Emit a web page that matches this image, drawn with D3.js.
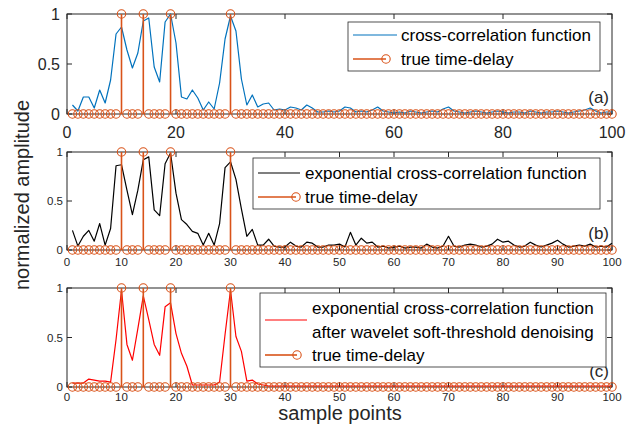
<!DOCTYPE html>
<html>
<head>
<meta charset="utf-8">
<script src="https://cdn.jsdelivr.net/npm/d3@7"></script>
<style>
  body { margin: 0; background: #fff; }
  svg { display: block; font-family: "Liberation Sans", Arial, sans-serif; }
</style>
</head>
<body>
<svg id="chart" width="627" height="426"></svg>
<script>
// sample index 1..100
const samples = d3.range(1, 101);
// true delays (stem value 1 at these samples, 0 elsewhere)
const delays = [10, 14, 19, 30];

// (a) cross-correlation function
const crossCorr = [
  0.09, 0.03, 0.17, 0.17, 0.06, 0.24, 0.11, 0.34, 0.80, 0.87,
  0.64, 0.46, 0.61, 0.93, 0.96, 0.47, 0.32, 0.92, 1.00, 0.71,
  0.17, 0.15, 0.24, 0.16, 0.04, 0.12, 0.05, 0.31, 0.75, 0.98,
  0.83, 0.35, 0.09, 0.19, 0.07, 0.10, 0.11, 0.04, 0.05, 0.04,
  0.07, 0.06, 0.04, 0.09, 0.06, 0.02, 0.02, 0.03, 0.02, 0.03,
  0.07, 0.06, 0.02, 0.03, 0.02, 0.04, 0.07, 0.03, 0.02, 0.01,
  0.02, 0.01, 0.03, 0.02, 0.01, 0.02, 0.03, 0.02, 0.05, 0.07,
  0.03, 0.02, 0.01, 0.02, 0.03, 0.02, 0.01, 0.02, 0.03, 0.02,
  0.01, 0.02, 0.02, 0.01, 0.03, 0.02, 0.01, 0.02, 0.02, 0.03,
  0.02, 0.01, 0.02, 0.03, 0.04, 0.06, 0.03, 0.01, 0.02, 0.02
];

// (b) exponential cross-correlation function
const expCorr = [
  0.20, 0.04, 0.14, 0.20, 0.09, 0.27, 0.05, 0.22, 0.86, 0.87,
  0.61, 0.36, 0.61, 0.92, 0.95, 0.41, 0.35, 0.88, 0.99, 0.58,
  0.31, 0.26, 0.19, 0.17, 0.05, 0.17, 0.05, 0.27, 0.84, 0.90,
  0.72, 0.42, 0.14, 0.21, 0.05, 0.05, 0.11, 0.04, 0.03, 0.03,
  0.08, 0.04, 0.03, 0.08, 0.07, 0.03, 0.03, 0.05, 0.05, 0.06,
  0.03, 0.18, 0.05, 0.12, 0.07, 0.08, 0.03, 0.04, 0.02, 0.03,
  0.04, 0.02, 0.03, 0.03, 0.02, 0.06, 0.03, 0.02, 0.04, 0.14,
  0.04, 0.03, 0.05, 0.06, 0.05, 0.03, 0.04, 0.06, 0.11, 0.08,
  0.09, 0.05, 0.03, 0.04, 0.08, 0.05, 0.03, 0.05, 0.07, 0.10,
  0.06, 0.03, 0.04, 0.05, 0.04, 0.06, 0.03, 0.04, 0.03, 0.07
];

// (c) after wavelet soft-threshold denoising
const denoised = [
  0.04, 0.04, 0.04, 0.08, 0.07, 0.06, 0.06, 0.05, 0.48, 0.98,
  0.43, 0.27, 0.59, 0.92, 0.68, 0.43, 0.32, 0.81, 0.85, 0.54,
  0.34, 0.21, 0.02, 0.02, 0.02, 0.02, 0.02, 0.05, 0.53, 0.98,
  0.51, 0.36, 0.06, 0.07, 0.03, 0.02, 0.01, 0.01, 0.01, 0.01,
  0.01, 0.01, 0.01, 0.01, 0.01, 0.01, 0.01, 0.01, 0.01, 0.01,
  0.01, 0.01, 0.01, 0.01, 0.01, 0.01, 0.01, 0.01, 0.01, 0.01,
  0.01, 0.01, 0.01, 0.01, 0.01, 0.01, 0.01, 0.01, 0.01, 0.01,
  0.01, 0.01, 0.01, 0.01, 0.01, 0.01, 0.01, 0.01, 0.01, 0.01,
  0.01, 0.01, 0.01, 0.01, 0.01, 0.01, 0.01, 0.01, 0.01, 0.01,
  0.01, 0.01, 0.01, 0.01, 0.01, 0.01, 0.01, 0.01, 0.01, 0.01
];

const yTicks = [0, 0.5, 1];
const legendStem = "true time-delay";

const axisColor = "#262626";
const stemColor = "#D95319";

const panels = [
  {
    values: crossCorr, color: "#0072BD", tag: "(a)",
    labels: ["cross-correlation function"],
    top: 14, bottom: 114, xTicks: d3.range(0, 101, 20), font: 16,
    yLabGap: 7, xLabDy: 18,
    box: {x: 348, y: 22, w: 252, h: 49, lx0: 353, lx1: 397, mx: 386, tx: 401, rows: [35, 59]},
    tagY: 103
  },
  {
    values: expCorr, color: "#000000", tag: "(b)",
    labels: ["exponential cross-correlation function"],
    top: 152, bottom: 250, xTicks: d3.range(0, 101, 10), font: 11.5,
    yLabGap: 4, xLabDy: 12,
    box: {x: 253, y: 158, w: 347, h: 51, lx0: 258, lx1: 300, mx: 296, tx: 305, rows: [173, 197]},
    tagY: 239
  },
  {
    values: denoised, color: "#FF0000", tag: "(c)",
    labels: ["exponential cross-correlation function", "after wavelet soft-threshold denoising"],
    top: 288, bottom: 387, xTicks: d3.range(0, 101, 10), font: 11.5,
    yLabGap: 4, xLabDy: 10,
    box: {x: 260, y: 293, w: 346, h: 74, lx0: 265, lx1: 307, mx: 297, tx: 312, rows: [308, 332, 355]},
    tagY: 377
  }
];

const left = 67, right = 612;
const svg = d3.select("#chart");

const x = d3.scaleLinear().domain([0, 100]).range([left, right]);

panels.forEach(p => {
  const y = d3.scaleLinear().domain([0, 1]).range([p.bottom, p.top]);
  const g = svg.append("g");

  // frame
  g.append("rect")
    .attr("x", left).attr("y", p.top)
    .attr("width", right - left).attr("height", p.bottom - p.top)
    .attr("fill", "none").attr("stroke", axisColor).attr("stroke-width", 1);

  // inward ticks on all four sides
  g.selectAll(".xt").data(p.xTicks).join("g").each(function (d) {
    const s = d3.select(this);
    s.append("line").attr("x1", x(d)).attr("x2", x(d)).attr("y1", p.bottom).attr("y2", p.bottom - 5)
      .attr("stroke", axisColor);
    s.append("line").attr("x1", x(d)).attr("x2", x(d)).attr("y1", p.top).attr("y2", p.top + 5)
      .attr("stroke", axisColor);
    s.append("text").attr("x", x(d)).attr("y", p.bottom + p.xLabDy)
      .attr("text-anchor", "middle").attr("dy", "0.35em")
      .attr("font-size", p.font).attr("fill", axisColor).text(d);
  });
  g.selectAll(".yt").data(yTicks).join("g").each(function (d) {
    const s = d3.select(this);
    s.append("line").attr("x1", left).attr("x2", left + 5).attr("y1", y(d)).attr("y2", y(d))
      .attr("stroke", axisColor);
    s.append("line").attr("x1", right).attr("x2", right - 5).attr("y1", y(d)).attr("y2", y(d))
      .attr("stroke", axisColor);
    s.append("text").attr("x", left - p.yLabGap).attr("y", y(d))
      .attr("text-anchor", "end").attr("dy", "0.35em")
      .attr("font-size", p.font).attr("fill", axisColor).text(d);
  });

  // signal line
  const line = d3.line().x((d, i) => x(samples[i])).y(d => y(d));
  g.append("path").datum(p.values)
    .attr("d", line).attr("fill", "none")
    .attr("stroke", p.color).attr("stroke-width", 1.2)
    .attr("stroke-linejoin", "round");

  // stem: true time-delay
  const stem = samples.map(s => ({s, v: delays.includes(s) ? 1 : 0}));
  g.selectAll(".stem").data(stem.filter(d => d.v > 0)).join("line")
    .attr("x1", d => x(d.s)).attr("x2", d => x(d.s))
    .attr("y1", y(0)).attr("y2", d => y(d.v))
    .attr("stroke", stemColor).attr("stroke-width", 1.6);
  g.selectAll(".mk").data(stem).join("circle")
    .attr("cx", d => x(d.s)).attr("cy", d => y(d.v)).attr("r", 4.2)
    .attr("fill", "none").attr("stroke", stemColor).attr("stroke-width", 1.1);

  // panel tag
  g.append("text").attr("x", 609).attr("y", p.tagY)
    .attr("text-anchor", "end").attr("font-size", 17).attr("fill", axisColor)
    .text(p.tag);

  // legend
  const b = p.box;
  g.append("rect").attr("x", b.x).attr("y", b.y).attr("width", b.w).attr("height", b.h)
    .attr("fill", "#fff").attr("stroke", axisColor).attr("stroke-width", 0.8);
  const nl = p.labels.length;
  const lineY = nl === 1 ? b.rows[0] : (b.rows[0] + b.rows[1]) / 2;
  g.append("line").attr("x1", b.lx0).attr("x2", b.lx1).attr("y1", lineY).attr("y2", lineY)
    .attr("stroke", p.color).attr("stroke-width", 1.2);
  p.labels.forEach((t, i) => {
    g.append("text").attr("x", b.tx).attr("y", b.rows[i]).attr("dy", "0.35em")
      .attr("font-size", 17).attr("fill", "#000").text(t);
  });
  const sy = b.rows[nl];
  g.append("line").attr("x1", b.lx0).attr("x2", b.mx).attr("y1", sy).attr("y2", sy)
    .attr("stroke", stemColor).attr("stroke-width", 1.6);
  g.append("circle").attr("cx", b.mx).attr("cy", sy).attr("r", 4.2)
    .attr("fill", "none").attr("stroke", stemColor).attr("stroke-width", 1.1);
  g.append("text").attr("x", b.tx).attr("y", sy).attr("dy", "0.35em")
    .attr("font-size", 17).attr("fill", "#000").text(legendStem);
});

// axis titles
svg.append("text")
  .attr("transform", "translate(22,195) rotate(-90)")
  .attr("text-anchor", "middle").attr("dy", "0.35em")
  .attr("font-size", 20).attr("fill", axisColor)
  .text("normalized amplitude");
svg.append("text")
  .attr("x", 340).attr("y", 420)
  .attr("text-anchor", "middle")
  .attr("font-size", 20).attr("fill", axisColor)
  .text("sample points");
</script>
</body>
</html>
